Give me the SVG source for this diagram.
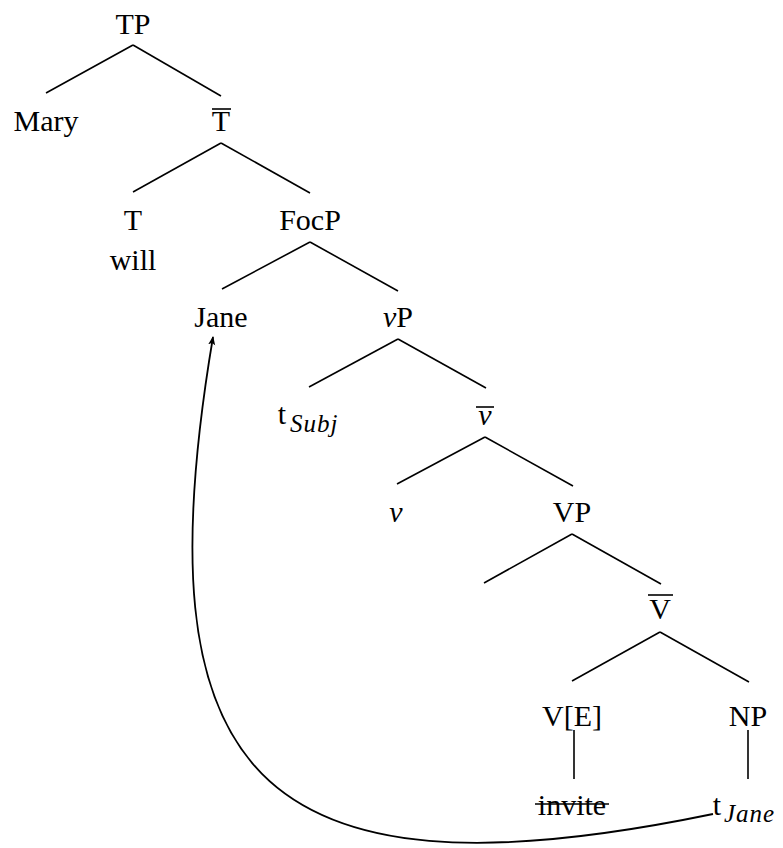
<svg xmlns="http://www.w3.org/2000/svg" width="783" height="848" viewBox="0 0 783 848">
<style>
text{font-family:"Liberation Serif","Times New Roman",serif;font-size:30px;fill:#000;text-anchor:middle}
.i{font-style:italic}
.sub{font-style:italic;font-size:25px;text-anchor:start;letter-spacing:1px}
.e line,.bar{stroke:#000;stroke-width:1.6;fill:none}
</style>
<defs>
<marker id="ah" viewBox="0 0 10 10" refX="9" refY="5" markerWidth="9" markerHeight="9" markerUnits="userSpaceOnUse" orient="auto">
<path d="M0,1 L10,5 L0,9 L2.5,5 Z" fill="#000"/>
</marker>
</defs>
<g id="edges" class="e">
<line x1="133" y1="45" x2="46" y2="93"/>
<line x1="133" y1="45" x2="221" y2="96"/>
<line x1="221" y1="143" x2="133" y2="192"/>
<line x1="221" y1="143" x2="310" y2="193"/>
<line x1="310" y1="242" x2="222" y2="289"/>
<line x1="310" y1="242" x2="398" y2="291"/>
<line x1="398" y1="339" x2="309" y2="387"/>
<line x1="398" y1="339" x2="486" y2="388"/>
<line x1="485" y1="437" x2="397" y2="484"/>
<line x1="485" y1="437" x2="573" y2="486"/>
<line x1="572" y1="534" x2="484" y2="583"/>
<line x1="572" y1="534" x2="661" y2="584"/>
<line x1="660" y1="632" x2="572" y2="681"/>
<line x1="660" y1="632" x2="749" y2="682"/>
<line x1="574" y1="730" x2="574" y2="779"/>
<line x1="748" y1="730" x2="748" y2="779"/>
<path d="M713,814 C250,910 140,770 213,337" style="stroke:#000;stroke-width:1.8;fill:none" marker-end="url(#ah)"/>
</g>
<g id="TP"><text x="133" y="34">TP</text></g>
<g id="Mary"><text x="46" y="131">Mary</text></g>
<g id="Tbar"><text x="221" y="131">T</text><line class="bar" x1="212" y1="109" x2="231" y2="109"/></g>
<g id="T"><text x="133" y="230">T</text><text x="133" y="270">will</text></g>
<g id="FocP"><text x="310" y="230">FocP</text></g>
<g id="Jane"><text x="221" y="327">Jane</text></g>
<g id="vP"><text x="398" y="327"><tspan class="i">v</tspan>P</text></g>
<g id="tSubj"><text x="282" y="424">t</text><text class="sub" x="290" y="432">Subj</text></g>
<g id="vbar"><text class="i" x="485" y="425">v</text><line class="bar" x1="476" y1="407" x2="494" y2="407"/></g>
<g id="v"><text class="i" x="396" y="522">v</text></g>
<g id="VP"><text x="572" y="522">VP</text></g>
<g id="Vbar"><text x="660" y="619">V</text><line class="bar" x1="648" y1="595" x2="673" y2="595"/></g>
<g id="VE"><text x="572" y="726">V[E]</text></g>
<g id="NP"><text x="748" y="726">NP</text></g>
<g id="invite"><text x="572" y="815">invite</text><line class="bar" x1="535" y1="804" x2="609" y2="804"/></g>
<g id="tJane"><text x="717" y="815">t</text><text class="sub" x="724" y="822">Jane</text></g>
</svg>
